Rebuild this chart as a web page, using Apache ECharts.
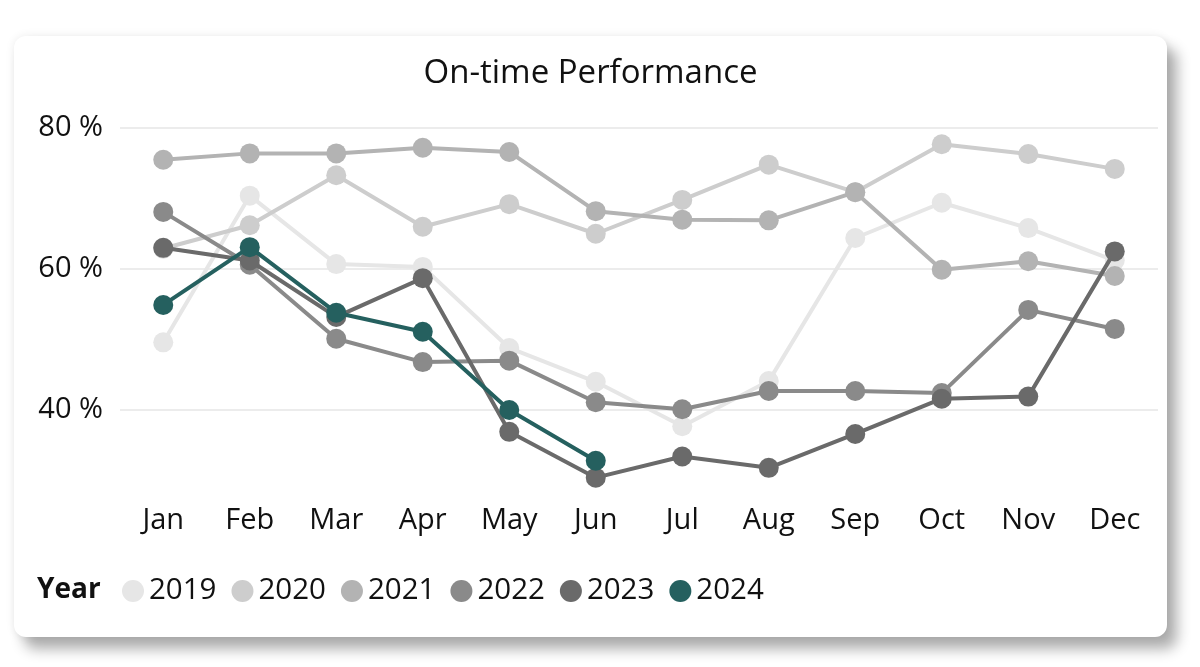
<!DOCTYPE html>
<html>
<head>
<meta charset="utf-8">
<script src="https://cdn.jsdelivr.net/npm/echarts@6/dist/echarts.min.js"></script>
<style>
  html, body { margin: 0; padding: 0; background: #fff; width: 1200px; height: 667px; overflow: hidden; }
  .card {
    position: absolute; left: 14px; top: 36px; width: 1153px; height: 601px;
    background: #fff; border-radius: 12px;
    box-shadow: 10px 12px 14px rgba(0,0,0,0.32), 0 0 10px rgba(0,0,0,0.08);
  }
  #chart { width: 1153px; height: 601px; }
</style>
</head>
<body>
<div class="card"><div id="chart"></div></div>
<script>
// 数据
var months = ['Jan', 'Feb', 'Mar', 'Apr', 'May', 'Jun', 'Jul', 'Aug', 'Sep', 'Oct', 'Nov', 'Dec'];
var years = ['2019', '2020', '2021', '2022', '2023', '2024'];
var y2019 = [49.6, 70.4, 60.7, 60.3, 48.8, 44.0, 37.7, 44.1, 64.4, 69.4, 65.8, 61.2];
var y2020 = [62.9, 66.2, 73.3, 66.0, 69.2, 65.0, 69.8, 74.8, 70.9, 77.7, 76.3, 74.2];
var y2021 = [75.5, 76.4, 76.4, 77.2, 76.6, 68.2, 67.0, 66.9, 70.9, 59.9, 61.1, 59.0];
var y2022 = [68.1, 60.6, 50.1, 46.8, 47.0, 41.1, 40.1, 42.7, 42.7, 42.4, 54.2, 51.5];
var y2023 = [63.0, 61.2, 53.2, 58.7, 36.9, 30.4, 33.4, 31.8, 36.6, 41.6, 41.9, 62.5];
var y2024 = [54.9, 63.1, 53.8, 51.1, 40.0, 32.8];
var yTicks = [40, 60, 80];

var values = [y2019, y2020, y2021, y2022, y2023, y2024];
var colors = ['#e6e6e6', '#cdcdcd', '#b3b3b3', '#8a8a8a', '#6a6a6a', '#25605f'];
var font = '"Open Sans", "Noto Sans", sans-serif';
var ink = '#111111';

var myChart = echarts.init(document.getElementById('chart'));

var series = years.map(function (y, i) {
    return {
        name: y,
        type: 'line',
        data: values[i],
        symbol: 'circle',
        symbolSize: 20,
        z: 2 + i,
        lineStyle: { width: 4, color: colors[i] },
        itemStyle: { color: colors[i] },
        emphasis: { disabled: true }
    };
});

var option = {
    animation: false,
    color: colors,
    textStyle: { fontFamily: font },
    title: {
        text: 'On-time Performance',
        left: 'center',
        top: 16,
        textStyle: { fontSize: 33, fontWeight: 'normal', color: ink, fontFamily: font }
    },
    //图例
    legend: {
        data: years,
        left: 103,
        top: 535,
        icon: 'circle',
        itemWidth: 22,
        itemHeight: 22,
        itemGap: 15,
        textStyle: { fontSize: 29.5, color: ink, fontFamily: font }
    },
    graphic: [{
        type: 'text',
        left: 23,
        top: 540,
        style: { text: 'Year', fontSize: 28, fontWeight: 'bold', fill: ink, fontFamily: font }
    }],
    grid: { left: 106, right: 9, top: 92, bottom: 142.4, containLabel: false },
    xAxis: {
        type: 'category',
        data: months,
        boundaryGap: true,
        axisLine: { show: false },
        axisTick: { show: false },
        axisLabel: { fontSize: 29, color: ink, margin: 12, fontFamily: font }
    },
    yAxis: {
        type: 'value',
        min: 28,
        max: 80,
        interval: 4,
        axisLine: { show: false },
        axisTick: { show: false },
        axisLabel: {
            fontSize: 29, color: ink, margin: 17, fontFamily: font,
            formatter: function (v) { return yTicks.indexOf(v) >= 0 ? v + ' %' : ''; }
        },
        splitLine: {
            lineStyle: { width: 2, color: ['transparent', 'transparent', 'transparent', '#ececec', 'transparent'] }
        }
    },
    series: series
};
myChart.setOption(option);
</script>
</body>
</html>
